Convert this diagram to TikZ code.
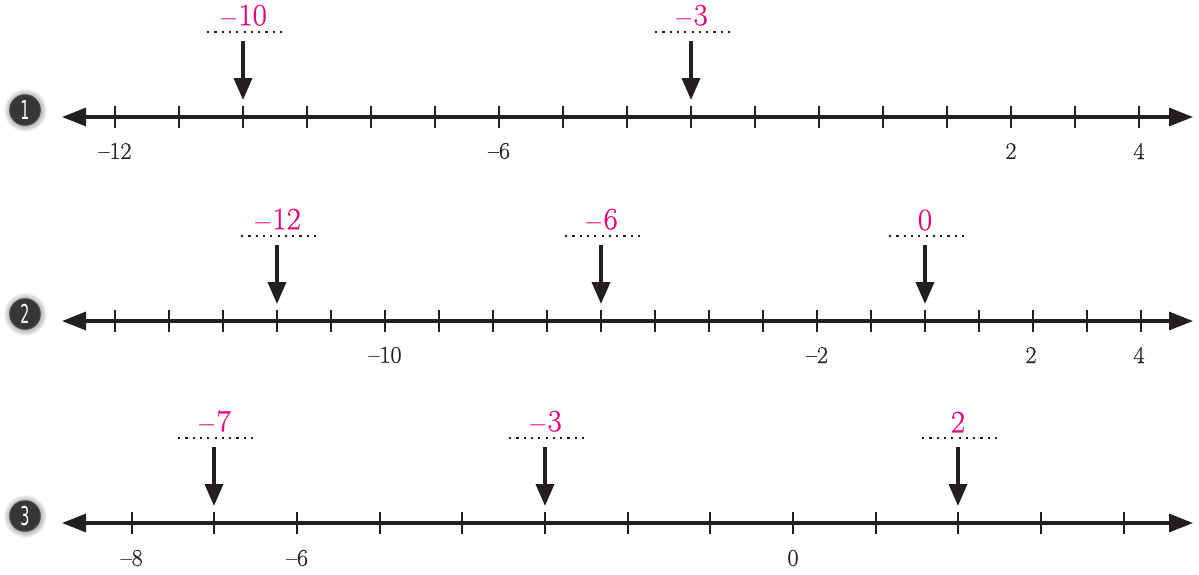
\documentclass[tikz,border=0pt]{standalone}
\usepackage{fontspec}
\newfontfamily\numfont{Latin Modern Roman}[FakeBold=0.5,Ligatures=TeX]
\newfontfamily\badgefont{DejaVu Sans}
\usetikzlibrary{arrows.meta}
\definecolor{ink}{HTML}{231F20}
\definecolor{pinkl}{HTML}{E6007E}
\definecolor{badgefill}{HTML}{363636}
\newcommand{\badgeglow}[1]{\shade[inner color=black,outer color=white] (#1) circle (22pt);}
\newcommand{\badgetext}[1]{\scalebox{0.55}[1]{#1}}
\begin{document}
\begin{tikzpicture}[x=1pt,y=-1pt,
  axisline/.style={draw=ink,line width=3.2pt,{Triangle[length=24pt,width=18pt]}-{Triangle[length=24pt,width=18pt]}},
  tickmark/.style={draw=ink,line width=2pt},
  pointer/.style={draw=ink,line width=3.6pt,-{Triangle[length=22pt,width=18pt]}},
  dotline/.style={draw=ink,line width=2.2pt,dash pattern=on 2.2pt off 5.1pt},
  answer/.style={text=pinkl,font=\numfont\fontsize{31}{31}\selectfont,inner sep=0pt},
  ticklabel/.style={text=ink,font=\numfont\fontsize{24}{24}\selectfont,inner sep=0pt},
  badge/.style={circle,fill=badgefill,draw=black!75,line width=1.5pt,minimum size=30pt,inner sep=0pt,text=white,font=\badgefont\fontsize{26}{26}\selectfont}
]
\useasboundingbox (0,0) rectangle (1199,574);

% ---------- line 1 ----------
\badgeglow{25,110}
\node[badge] (b1) at (25,110) {\badgetext{1}};
\coordinate (l1L) at (62,117);
\coordinate (l1R) at (1193,117);
\draw[axisline] (l1L) -- (l1R);
\foreach \i in {0,...,16} \draw[tickmark] ({115+\i*64},106) -- ({115+\i*64},128);
\node[ticklabel] (t1a) at (115,151) {--12};
\node[ticklabel] (t1b) at (499,151) {--6};
\node[ticklabel] (t1c) at (1011,151) {2};
\node[ticklabel] (t1d) at (1139,151) {4};
\node[answer] (a1a) at (243,16) {$-$10};
\coordinate (d1aL) at (207,32); \coordinate (d1aR) at (282,32);
\draw[dotline] (d1aL) -- (d1aR);
\coordinate (p1aS) at (243,41); \coordinate (p1aE) at (243,100);
\draw[pointer] (p1aS) -- (p1aE);
\node[answer] (a1b) at (691,16) {$-$3};
\coordinate (d1bL) at (655,32); \coordinate (d1bR) at (730,32);
\draw[dotline] (d1bL) -- (d1bR);
\coordinate (p1bS) at (691,41); \coordinate (p1bE) at (691,100);
\draw[pointer] (p1bS) -- (p1bE);

% ---------- line 2 ----------
\badgeglow{25,314}
\node[badge] (b2) at (25,314) {\badgetext{2}};
\coordinate (l2L) at (62,321);
\coordinate (l2R) at (1193,321);
\draw[axisline] (l2L) -- (l2R);
\foreach \i in {0,...,19} \draw[tickmark] ({115+\i*54},310) -- ({115+\i*54},332);
\node[ticklabel] (t2a) at (385,355) {--10};
\node[ticklabel] (t2b) at (817,355) {--2};
\node[ticklabel] (t2c) at (1031,355) {2};
\node[ticklabel] (t2d) at (1139,355) {4};
\node[answer] (a2a) at (277,220) {$-$12};
\coordinate (d2aL) at (241,236); \coordinate (d2aR) at (316,236);
\draw[dotline] (d2aL) -- (d2aR);
\coordinate (p2aS) at (277,245); \coordinate (p2aE) at (277,304);
\draw[pointer] (p2aS) -- (p2aE);
\node[answer] (a2b) at (601,220) {$-$6};
\coordinate (d2bL) at (565,236); \coordinate (d2bR) at (640,236);
\draw[dotline] (d2bL) -- (d2bR);
\coordinate (p2bS) at (601,245); \coordinate (p2bE) at (601,304);
\draw[pointer] (p2bS) -- (p2bE);
\node[answer] (a2c) at (925,220) {0};
\coordinate (d2cL) at (889,236); \coordinate (d2cR) at (964,236);
\draw[dotline] (d2cL) -- (d2cR);
\coordinate (p2cS) at (925,245); \coordinate (p2cE) at (925,304);
\draw[pointer] (p2cS) -- (p2cE);

% ---------- line 3 ----------
\badgeglow{25,516}
\node[badge] (b3) at (25,516) {\badgetext{3}};
\coordinate (l3L) at (62,523);
\coordinate (l3R) at (1193,523);
\draw[axisline] (l3L) -- (l3R);
\foreach \i in {0,...,12} \draw[tickmark] ({131.7+\i*82.67},512) -- ({131.7+\i*82.67},534);
\node[ticklabel] (t3a) at (131.7,558) {--8};
\node[ticklabel] (t3b) at (297,558) {--6};
\node[ticklabel] (t3c) at (793,558) {0};
\node[answer] (a3a) at (214,422) {$-$7};
\coordinate (d3aL) at (178,438); \coordinate (d3aR) at (253,438);
\draw[dotline] (d3aL) -- (d3aR);
\coordinate (p3aS) at (214,447); \coordinate (p3aE) at (214,506);
\draw[pointer] (p3aS) -- (p3aE);
\node[answer] (a3b) at (545,422) {$-$3};
\coordinate (d3bL) at (509,438); \coordinate (d3bR) at (584,438);
\draw[dotline] (d3bL) -- (d3bR);
\coordinate (p3bS) at (545,447); \coordinate (p3bE) at (545,506);
\draw[pointer] (p3bS) -- (p3bE);
\node[answer] (a3c) at (958,422) {2};
\coordinate (d3cL) at (922,438); \coordinate (d3cR) at (997,438);
\draw[dotline] (d3cL) -- (d3cR);
\coordinate (p3cS) at (958,447); \coordinate (p3cE) at (958,506);
\draw[pointer] (p3cS) -- (p3cE);
\end{tikzpicture}
\end{document}
